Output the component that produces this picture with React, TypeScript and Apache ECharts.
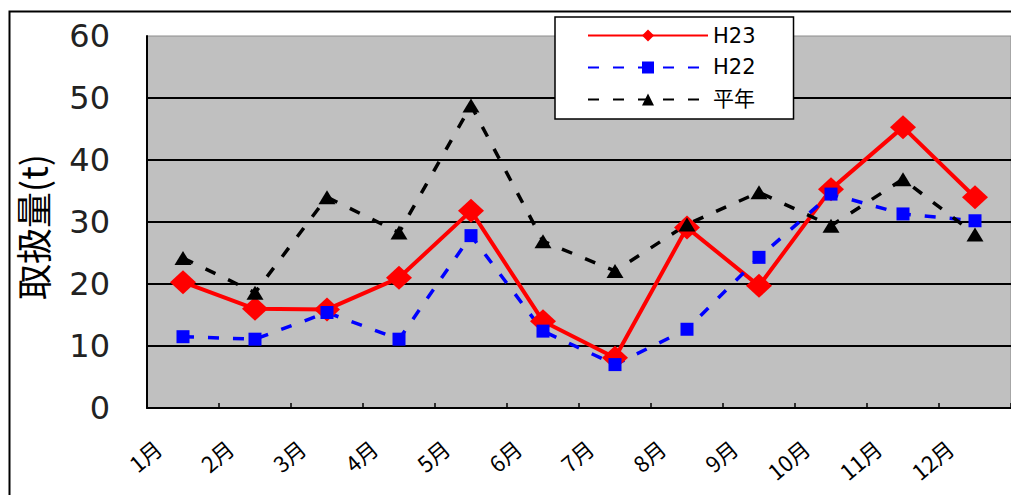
import React, { useEffect, useRef } from "react";
import * as echarts from "echarts";

const months = ["1月", "2月", "3月", "4月", "5月", "6月", "7月", "8月", "9月", "10月", "11月", "12月"];
const h23 = [20.3, 16.0, 15.9, 21.0, 31.8, 14.0, 8.1, 29.1, 19.7, 35.3, 45.3, 34.0];
const h22 = [11.5, 11.1, 15.4, 11.1, 27.8, 12.4, 7.0, 12.7, 24.3, 34.5, 31.3, 30.2];
const heinen = [24.2, 18.6, 34.0, 28.3, 48.8, 26.9, 22.1, 29.6, 34.8, 29.4, 36.9, 28.0];
const yTicks = { min: 0, max: 60, interval: 10 };

export default function App() {
  const ref = useRef<HTMLDivElement>(null);
  useEffect(() => {
    if (!ref.current) return;
    const chart = echarts.init(ref.current, null, { renderer: "svg" });
    chart.setOption({
      animation: false,
      backgroundColor: "#ffffff",
      graphic: [
        {
          type: "polyline",
          shape: { points: [[9.5, 700], [9.5, 11.5], [1300, 11.5]] },
          style: { fill: "none", stroke: "#000", lineWidth: 2 },
          z: 100,
          silent: true,
        },
      ],
      grid: {
        left: 147,
        top: 36,
        width: 873,
        height: 372,
        show: true,
        backgroundColor: "#c0c0c0",
        borderColor: "#8c8c8c",
        borderWidth: 1,
      },
      legend: {
        orient: "vertical",
        left: 555,
        top: 17,
        backgroundColor: "#ffffff",
        borderColor: "#000",
        borderWidth: 1.5,
        borderRadius: 0,
        padding: [8, 38, 9, 32],
        itemWidth: 120,
        itemHeight: 15,
        itemGap: 11,
        textStyle: {
          fontSize: 21,
          lineHeight: 20,
          color: "#000",
          fontFamily: "DejaVu Sans, 'Noto Sans CJK JP'",
        },
        data: ["H23", "H22", "平年"],
      },
      xAxis: {
        type: "category",
        data: months,
        boundaryGap: true,
        axisLine: { lineStyle: { color: "#000", width: 2 } },
        axisTick: { show: true, inside: true, length: 5, lineStyle: { color: "#000", width: 1.5 } },
        axisLabel: {
          rotate: 40,
          interval: 0,
          margin: 15,
          padding: [0, 33, 0, 0],
          fontSize: 22,
          color: "#000",
          fontFamily: "'Noto Sans CJK JP', DejaVu Sans",
        },
        splitLine: { show: false },
      },
      yAxis: {
        type: "value",
        min: yTicks.min,
        max: yTicks.max,
        interval: yTicks.interval,
        name: "取扱量(t)",
        nameLocation: "middle",
        nameGap: 97,
        nameRotate: 90,
        nameTextStyle: {
          fontSize: 36,
          color: "#000",
          fontFamily: "'Noto Sans CJK JP'",
          padding: [0, 10, 0, 0],
        },
        axisLine: { show: true, lineStyle: { color: "#000", width: 2 } },
        axisTick: { show: false },
        axisLabel: {
          margin: 37,
          fontSize: 32,
          color: "#222",
          fontFamily: "DejaVu Sans",
        },
        splitLine: { show: true, showMaxLine: false, lineStyle: { color: "#000", width: 2 } },
      },
      series: [
        {
          name: "H23",
          type: "line",
          data: h23,
          symbol: "diamond",
          symbolSize: [26, 24],
          itemStyle: { color: "#ff0000" },
          lineStyle: { color: "#ff0000", width: 4 },
        },
        {
          name: "H22",
          type: "line",
          data: h22,
          symbol: "rect",
          symbolSize: 13,
          itemStyle: { color: "#0000ff" },
          lineStyle: { color: "#0000ff", width: 3.5, type: [11, 14] },
        },
        {
          name: "平年",
          type: "line",
          data: heinen,
          symbol: "triangle",
          symbolSize: [17, 14],
          itemStyle: { color: "#000" },
          lineStyle: { color: "#000", width: 3.5, type: [11, 14] },
        },
      ],
    });
    return () => chart.dispose();
  }, []);
  return (
    <div
      ref={ref}
      style={{ position: "fixed", left: 0, top: 0, width: 1011, height: 495 }}
    />
  );
}
